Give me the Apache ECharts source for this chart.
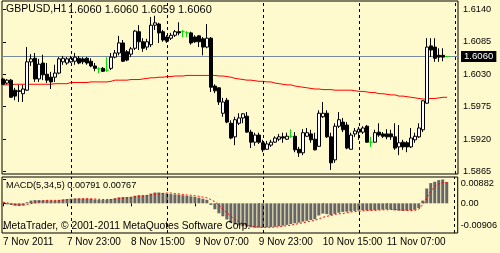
<!DOCTYPE html>
<html><head><meta charset="utf-8">
<script src="https://cdn.jsdelivr.net/npm/echarts@6/dist/echarts.min.js"></script>
<style>html,body{margin:0;padding:0;background:#FFFACD}#c{width:500px;height:253px}</style>
</head><body><div id="c"></div>
<script>
const symbolName = 'GBPUSD,H1';
const firstBarHour = 7; // first bar: 7 Nov 2011 07:00, hourly bars
const opens = [1.6022,1.6015,1.6020,1.6003,1.6002,1.5997,1.6003,1.6051,1.6057,1.6022,
1.6049,1.6030,1.6025,1.6025,1.6032,1.6051,1.6049,1.6051,1.6052,1.6057,
1.6056,1.6057,1.6052,1.6044,1.6039,1.6040,1.6037,1.6040,1.6059,1.6066,
1.6083,1.6068,1.6064,1.6074,1.6102,1.6085,1.6076,1.6080,1.6113,1.6115,
1.6102,1.6093,1.6091,1.6096,1.6102,1.6102,1.6100,1.6100,1.6093,1.6095,
1.6090,1.6076,1.6091,1.6010,1.6007,1.5964,1.5986,1.5947,1.5924,1.5947,
1.5956,1.5959,1.5932,1.5915,1.5927,1.5914,1.5903,1.5910,1.5915,1.5920,
1.5924,1.5920,1.5925,1.5925,1.5903,1.5897,1.5925,1.5929,1.5920,1.5908,
1.5958,1.5964,1.5924,1.5885,1.5942,1.5949,1.5944,1.5903,1.5929,1.5932,
1.5932,1.5942,1.5915,1.5915,1.5932,1.5929,1.5929,1.5929,1.5924,1.5907,
1.5915,1.5914,1.5907,1.5919,1.5924,1.5936,1.5981,1.6078,1.6076,1.6062,
1.6062,1.6060];
const closes = [1.6013,1.6020,1.5991,1.5993,1.6001,1.6005,1.6051,1.6056,1.6022,1.6047,
1.6029,1.6020,1.6017,1.6032,1.6056,1.6057,1.6056,1.6057,1.6059,1.6049,
1.6051,1.6049,1.6044,1.6040,1.6039,1.6035,1.6037,1.6059,1.6066,1.6083,
1.6052,1.6054,1.6073,1.6103,1.6085,1.6074,1.6085,1.6113,1.6117,1.6100,
1.6088,1.6086,1.6096,1.6102,1.6100,1.6102,1.6100,1.6083,1.6085,1.6085,
1.6076,1.6091,1.6008,1.6002,1.5983,1.5983,1.5949,1.5922,1.5953,1.5956,
1.5963,1.5932,1.5915,1.5927,1.5915,1.5902,1.5912,1.5915,1.5922,1.5924,
1.5922,1.5925,1.5925,1.5902,1.5897,1.5931,1.5931,1.5919,1.5902,1.5964,
1.5964,1.5924,1.5880,1.5942,1.5953,1.5936,1.5905,1.5927,1.5934,1.5937,
1.5939,1.5915,1.5915,1.5931,1.5927,1.5925,1.5924,1.5924,1.5905,1.5914,
1.5907,1.5907,1.5922,1.5925,1.5939,1.5985,1.6076,1.6071,1.6057,1.6059,
1.6059,1.6060];
const lows = [1.6012,1.6013,1.5990,1.5986,1.5983,1.5983,1.6002,1.6044,1.6017,1.6017,
1.6020,1.6015,1.6005,1.6017,1.6030,1.6046,1.6046,1.6049,1.6046,1.6047,
1.6047,1.6046,1.6042,1.6035,1.6032,1.6034,1.6034,1.6037,1.6057,1.6062,
1.6051,1.6052,1.6059,1.6071,1.6071,1.6068,1.6071,1.6076,1.6105,1.6083,
1.6085,1.6083,1.6088,1.6093,1.6096,1.6093,1.6093,1.6080,1.6083,1.6076,
1.6062,1.6074,1.6000,1.5998,1.5978,1.5958,1.5947,1.5920,1.5910,1.5944,
1.5947,1.5931,1.5905,1.5909,1.5912,1.5898,1.5902,1.5907,1.5914,1.5917,
1.5914,1.5919,1.5922,1.5898,1.5890,1.5893,1.5924,1.5914,1.5901,1.5907,
1.5956,1.5922,1.5868,1.5880,1.5939,1.5932,1.5903,1.5902,1.5924,1.5919,
1.5929,1.5914,1.5907,1.5914,1.5924,1.5922,1.5920,1.5919,1.5902,1.5893,
1.5902,1.5898,1.5905,1.5914,1.5922,1.5932,1.5980,1.6059,1.6051,1.6051,
1.6052,1.6059];
const highs = [1.6024,1.6022,1.6022,1.6007,1.6012,1.6012,1.6076,1.6064,1.6066,1.6056,
1.6063,1.6049,1.6034,1.6046,1.6059,1.6061,1.6059,1.6061,1.6066,1.6061,
1.6059,1.6059,1.6057,1.6049,1.6042,1.6042,1.6059,1.6066,1.6071,1.6095,
1.6088,1.6071,1.6076,1.6105,1.6113,1.6091,1.6090,1.6127,1.6129,1.6117,
1.6105,1.6096,1.6100,1.6105,1.6118,1.6105,1.6103,1.6102,1.6096,1.6096,
1.6093,1.6115,1.6093,1.6013,1.6008,1.5990,1.5990,1.5952,1.5958,1.5964,
1.5964,1.5966,1.5936,1.5931,1.5931,1.5919,1.5917,1.5919,1.5925,1.5929,
1.5931,1.5931,1.5937,1.5932,1.5907,1.5937,1.5939,1.5936,1.5931,1.5969,
1.5983,1.5969,1.5931,1.5947,1.5966,1.5956,1.5949,1.5931,1.5939,1.5941,
1.5942,1.5944,1.5924,1.5936,1.5947,1.5932,1.5937,1.5936,1.5947,1.5944,
1.5919,1.5917,1.5939,1.5931,1.5947,1.5986,1.6091,1.6091,1.6091,1.6074,
1.6074,1.6060];
const maValues = [1.6012,1.6012,1.6012,1.6013,1.6013,1.6013,1.6013,1.6013,1.6013,1.6013,
1.6013,1.6013,1.6013,1.6014,1.6014,1.6014,1.6014,1.6016,1.6016,1.6016,
1.6016,1.6016,1.6017,1.6017,1.6017,1.6017,1.6017,1.6018,1.6020,1.6020,
1.6020,1.6020,1.6021,1.6021,1.6021,1.6022,1.6023,1.6024,1.6024,1.6025,
1.6025,1.6026,1.6026,1.6027,1.6027,1.6027,1.6028,1.6028,1.6028,1.6028,
1.6028,1.6028,1.6028,1.6028,1.6027,1.6027,1.6026,1.6025,1.6023,1.6022,
1.6021,1.6020,1.6020,1.6019,1.6018,1.6018,1.6017,1.6017,1.6015,1.6014,
1.6013,1.6012,1.6012,1.6010,1.6009,1.6008,1.6007,1.6006,1.6005,1.6005,
1.6004,1.6004,1.6004,1.6003,1.6003,1.6003,1.6003,1.6003,1.6002,1.6001,
1.6001,1.6000,1.5999,1.5999,1.5997,1.5997,1.5996,1.5995,1.5995,1.5993,
1.5993,1.5992,1.5991,1.5990,1.5989,1.5988,1.5988,1.5989,1.5989,1.5990,
1.5991,1.5991];
const macdMain = [-0.0002,-0.0004,-0.0006,-0.0009,-0.0010,-0.0008,0.0004,0.0010,0.0012,0.0012,
0.0011,0.0011,0.0010,0.0010,0.0012,0.0014,0.0016,0.0017,0.0018,0.0018,
0.0017,0.0017,0.0016,0.0014,0.0013,0.0012,0.0013,0.0016,0.0019,0.0022,
0.0023,0.0023,0.0024,0.0028,0.0030,0.0030,0.0031,0.0036,0.0040,0.0040,
0.0038,0.0036,0.0034,0.0033,0.0032,0.0030,0.0028,0.0026,0.0024,0.0021,
0.0017,0.0013,-0.0006,-0.0022,-0.0037,-0.0048,-0.0060,-0.0072,-0.0078,-0.0082,
-0.0085,-0.0087,-0.0089,-0.00906,-0.0090,-0.0090,-0.0089,-0.0088,-0.0087,-0.0085,
-0.0083,-0.0080,-0.0077,-0.0074,-0.0072,-0.0068,-0.0065,-0.0062,-0.0059,-0.0045,
-0.0038,-0.0040,-0.0044,-0.0039,-0.0035,-0.0032,-0.0031,-0.0030,-0.0028,-0.0027,
-0.0026,-0.0026,-0.0026,-0.0025,-0.0024,-0.0023,-0.0022,-0.0023,-0.0026,-0.0027,
-0.0028,-0.0027,-0.0026,-0.0024,-0.0018,0.0010,0.0055,0.0075,0.0080,0.0086,
0.00882,0.00791];
const macdSignal = [0.0004,0.0002,-0.0002,-0.0005,-0.0006,-0.0006,-0.0004,-0.0001,0.0002,0.0006,
0.0009,0.0011,0.0011,0.0011,0.0011,0.0012,0.0013,0.0014,0.0015,0.0016,
0.0017,0.0017,0.0017,0.0016,0.0015,0.0014,0.0014,0.0014,0.0015,0.0017,
0.0019,0.0021,0.0022,0.0024,0.0026,0.0027,0.0029,0.0031,0.0033,0.0035,
0.0037,0.0038,0.0038,0.0036,0.0035,0.0033,0.0031,0.0030,0.0028,0.0026,
0.0023,0.0020,0.0014,0.0006,-0.0007,-0.0022,-0.0035,-0.0048,-0.0059,-0.0068,
-0.0075,-0.0081,-0.0084,-0.0087,-0.0088,-0.0089,-0.0089,-0.0089,-0.0088,-0.0087,
-0.0085,-0.0083,-0.0081,-0.0078,-0.0075,-0.0072,-0.0069,-0.0066,-0.0063,-0.0058,
-0.0052,-0.0048,-0.0045,-0.0041,-0.0039,-0.0038,-0.0035,-0.0032,-0.0031,-0.0030,
-0.0028,-0.0027,-0.0026,-0.0026,-0.0025,-0.0024,-0.0024,-0.0023,-0.0023,-0.0024,
-0.0025,-0.0026,-0.0027,-0.0026,-0.0022,-0.0005,0.0020,0.0045,0.0062,0.0072,
0.0076,0.00767];
const priceTicks = [1.6140, 1.6085, 1.6030, 1.5975, 1.5920, 1.5865];
const macdTicks = [0.00882, 0, -0.00906];
const macdTickLabels = ['0.00882', '0.00', '-0.00906'];
const timeTickBars = [0, 16, 32, 48, 64, 80, 96];
const timeTickLabels = ['7 Nov 2011', '7 Nov 23:00', '8 Nov 15:00', '9 Nov 07:00', '9 Nov 23:00', '10 Nov 15:00', '11 Nov 07:00'];
const macdParams = '5,34,5';
const copyrightText = 'MetaTrader, \u00A9 2001-2011 MetaQuotes Software Corp.';

const n = opens.length;
const last = n - 1;
const FONT = 'Liberation Sans';
const BG = '#FFFACD';
const DOJI = '#00E000';

const candleData = opens.map((o, i) => {
  const item = { value: [i, o, closes[i], lows[i], highs[i]] };
  if (o === closes[i]) item.itemStyle = { color: DOJI, color0: DOJI, borderColor: DOJI, borderColor0: DOJI };
  return item;
});
const maData = maValues.map((v, i) => [i, v]);
const histData = macdMain.map((v, i) => [i, v]);
const sigData = macdSignal.map((v, i) => [i, v]);

// day separators: bars whose hour is 00:00 (including the next day start)
const separators = [];
for (let k = 0; k <= n + 1; k++) if ((firstBarHour + k) % 24 === 0) separators.push({ xAxis: k });

const xMin = -0.25, xMax = 113.75;
const sepLine = {
  silent: true, symbol: ['none', 'none'], precision: 6,
  lineStyle: { color: '#000', type: [3, 3], width: 1 },
  label: { show: false }, data: separators
};

const fmt4 = v => v.toFixed(4);
const priceText = [opens[last], highs[last], lows[last], closes[last]].map(fmt4).join(' ');
const macdText = 'MACD(' + macdParams + ') ' + macdMain[last].toFixed(5) + ' ' + macdSignal[last].toFixed(5);

const txt = { fontFamily: FONT, fontSize: 10, fontWeight: 'normal', color: '#000' };

const chart = echarts.init(document.getElementById('c'), null, { renderer: 'canvas' });
chart.setOption({
  animation: false,
  backgroundColor: BG,
  title: [
    { text: symbolName, left: 6, top: 4, padding: 0, textStyle: Object.assign({}, txt, { fontSize: 10.5 }) },
    { text: priceText, left: 68, top: 4, padding: 0, textStyle: Object.assign({}, txt, { fontSize: 11 }) },
    { text: macdText, left: 6, top: 181, padding: 0, textStyle: Object.assign({}, txt, { fontSize: 9.2 }) },
    { text: copyrightText, left: 3, top: 221, padding: 0, textStyle: Object.assign({}, txt, { fontSize: 10.3 }) }
  ],
  grid: [
    { left: 2, right: 42, top: 1, height: 173, show: true, borderColor: '#000', borderWidth: 1, backgroundColor: 'transparent' },
    { left: 2, right: 42, top: 177, height: 56, show: true, borderColor: '#000', borderWidth: 1, backgroundColor: 'transparent' }
  ],
  xAxis: [
    { type: 'value', gridIndex: 0, min: xMin, max: xMax, show: false, splitLine: { show: false } },
    { type: 'value', gridIndex: 1, min: xMin, max: xMax,
      axisLine: { show: false }, splitLine: { show: false },
      axisTick: { show: true, customValues: timeTickBars, length: 3, lineStyle: { color: '#000' } },
      axisLabel: { show: true, customValues: timeTickBars, align: 'left', margin: 4,
        fontFamily: FONT, fontSize: 10, color: '#000',
        formatter: v => timeTickLabels[timeTickBars.indexOf(Math.round(v))] || '' } }
  ],
  yAxis: [
    { type: 'value', gridIndex: 0, position: 'right', scale: true, min: 1.58611, max: 1.61540,
      axisLine: { show: false }, splitLine: { show: false },
      axisTick: { show: true, customValues: priceTicks, length: 3, lineStyle: { color: '#000' } },
      axisLabel: { show: true, customValues: priceTicks, margin: 5, fontFamily: FONT, fontSize: 9.2, color: '#000', formatter: v => v.toFixed(4) } },
    { type: 'value', gridIndex: 1, position: 'right', min: -0.0110, max: 0.00975,
      axisLine: { show: false }, splitLine: { show: false },
      axisTick: { show: true, customValues: macdTicks, length: 3, lineStyle: { color: '#000' } },
      axisLabel: { show: true, customValues: macdTicks, margin: 3, fontFamily: FONT, fontSize: 9.2, color: '#000',
        formatter: v => {
          let best = 0; macdTicks.forEach((t, j) => { if (Math.abs(t - v) < Math.abs(macdTicks[best] - v)) best = j; });
          const style = best === 0 ? 't' : (best === macdTicks.length - 1 ? 'b' : 'm');
          return '{' + style + '|' + macdTickLabels[best] + '}';
        },
        rich: {
          t: { fontFamily: FONT, fontSize: 9.2, color: '#000', padding: [7, 0, 0, 0] },
          m: { fontFamily: FONT, fontSize: 9.2, color: '#000' },
          b: { fontFamily: FONT, fontSize: 9.2, color: '#000', padding: [0, 0, 5, 0] }
        } } }
  ],
  series: [
    { type: 'line', xAxisIndex: 0, yAxisIndex: 0, data: maData, showSymbol: false, symbol: 'none',
      lineStyle: { color: '#FF0000', width: 1 }, z: 2, silent: true,
      markLine: { silent: true, symbol: ['none', 'none'], precision: 6, z: 1,
        lineStyle: { color: '#778899', type: 'solid', width: 1 },
        label: { show: true, position: 'end', distance: 3, formatter: () => fmt4(closes[last]),
          backgroundColor: '#000', color: '#fff', padding: [1, 3, 0, 3], fontFamily: FONT, fontSize: 9.6 },
        data: [{ yAxis: closes[last] }] } },
    { type: 'candlestick', xAxisIndex: 0, yAxisIndex: 0, data: candleData, barWidth: 3, z: 3,
      itemStyle: { color: '#FFFFFF', color0: '#000000', borderColor: '#000000', borderColor0: '#000000', borderWidth: 1 },
      markLine: sepLine },
    { type: 'bar', xAxisIndex: 1, yAxisIndex: 1, data: histData, barWidth: 3,
      itemStyle: { color: '#666666' }, markLine: sepLine, silent: true },
    { type: 'line', xAxisIndex: 1, yAxisIndex: 1, data: sigData, showSymbol: false, symbol: 'none',
      lineStyle: { color: '#FF0000', width: 1, type: [2, 2] }, z: 4, silent: true }
  ]
});
</script></body></html>
